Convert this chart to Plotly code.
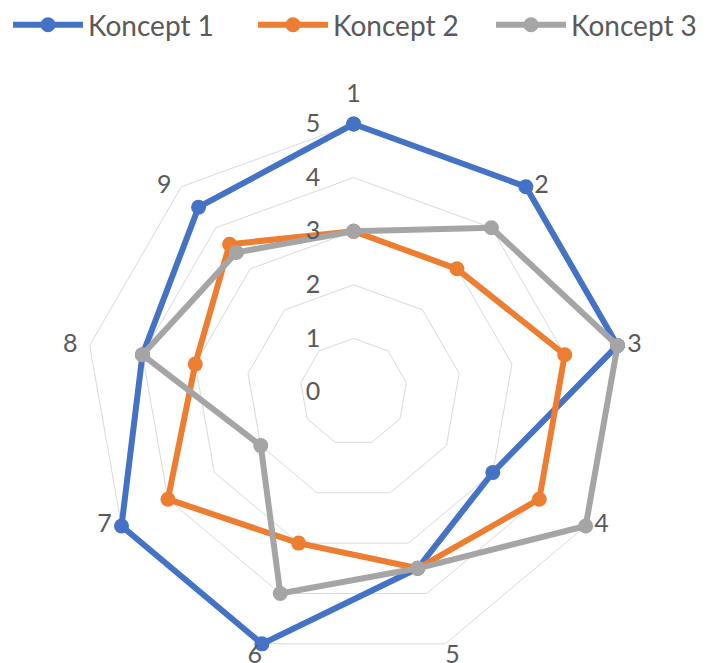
import plotly.graph_objects as go

categories = ["1", "2", "3", "4", "5", "6", "7", "8", "9"]
koncept1 = [5, 5, 5, 3, 3.5, 5, 5, 4, 4.5]
koncept2 = [3, 3, 4, 4, 3.5, 3, 4, 3, 3.6]
koncept3 = [3, 4, 5, 5, 3.5, 4, 2, 4, 3.4]
series_names = ["Koncept 1", "Koncept 2", "Koncept 3"]
radial_ticks = [0, 1, 2, 3, 4, 5]
radial_max = 5
radial_view_max = 5.1  # small headroom so thick outer lines are not clipped

colors = ["#4472C4", "#ED7D31", "#A5A5A5"]
FONT = "Lato"
TXT = "#595959"
label_positions = ["top center", "middle right", "middle right", "middle right",
                   "bottom right", "bottom left", "middle left", "middle left", "middle left"]
label_pad = [24, 12, 14, 12, 0, 0, 14, 18, 14]
legend_ids = ["legend", "legend2", "legend3"]
legend_x_px = [0, 245, 483]

fig = go.Figure()
for name, vals, c, lg in zip(series_names, [koncept1, koncept2, koncept3], colors, legend_ids):
    fig.add_trace(go.Scatterpolar(
        r=vals + [vals[0]],
        theta=categories + [categories[0]],
        mode="lines+markers",
        name=name,
        line=dict(color=c, width=6),
        marker=dict(size=15, color=c),
        cliponaxis=False,
        legend=lg,
    ))

# category labels placed beside the outer vertices (Excel style)
fig.add_trace(go.Scatterpolar(
    r=[radial_max] * len(categories),
    theta=categories,
    mode="markers+text",
    text=categories,
    textposition=label_positions,
    textfont=dict(size=25, color=TXT, family=FONT),
    marker=dict(size=label_pad, opacity=0, line=dict(width=0)),
    showlegend=False,
    hoverinfo="skip",
    cliponaxis=False,
))

W, H = 707, 663
cx, cy = 352.8 - 7.2, 391 - 7
R = 268 * radial_view_max / radial_max


def legend_cfg(xpx):
    return dict(orientation="h", x=xpx / W, xanchor="left", y=1.0 + 8 / H, yanchor="top",
                bgcolor="rgba(0,0,0,0)",
                font=dict(size=28, color=TXT, family=FONT), itemwidth=70)


fig.update_layout(
    width=W, height=H,
    margin=dict(l=0, r=0, t=0, b=0, autoexpand=False),
    paper_bgcolor="white",
    font=dict(family=FONT, color=TXT, size=25),
    showlegend=True,
    legend=legend_cfg(legend_x_px[0]),
    legend2=legend_cfg(legend_x_px[1]),
    legend3=legend_cfg(legend_x_px[2]),
    polar=dict(
        domain=dict(x=[(cx - R) / W, (cx + R) / W], y=[1 - (cy + R) / H, 1 - (cy - R) / H]),
        gridshape="linear",
        bgcolor="white",
        angularaxis=dict(
            rotation=90, direction="clockwise",
            showline=False, showgrid=False, showticklabels=False, ticks="",
        ),
        radialaxis=dict(
            range=[0, radial_view_max], tickvals=radial_ticks, angle=90, tickangle=90,
            showline=False, gridcolor="#D9D9D9", gridwidth=1,
            ticks="outside", ticklen=24, tickcolor="rgba(0,0,0,0)",
            side="counterclockwise",
            tickfont=dict(size=25, color=TXT, family=FONT),
        ),
    ),
)

fig.write_html("out.html")
